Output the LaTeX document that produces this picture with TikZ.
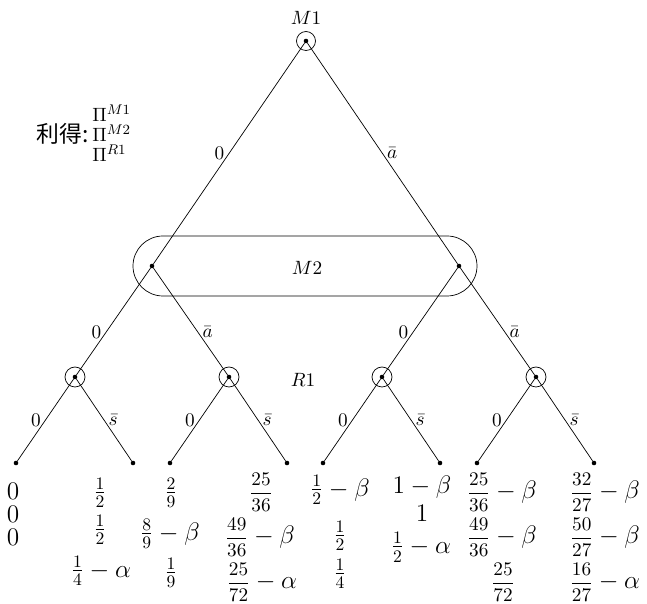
\documentclass[tikz,border=0pt]{standalone}
\usepackage{amsmath}
\usepackage{fontspec}
\newfontfamily\cjk{Noto Sans CJK SC}
\pgfdeclarelayer{edgelayer}
\pgfdeclarelayer{nodelayer}
\pgfsetlayers{edgelayer,nodelayer,main}
\newcommand{\fracsize}{\fontsize{11}{13}\selectfont}
\newcommand{\dpay}[3]{{\fracsize$\dfrac{#1}{#2}$}$\mskip\medmuskip-\mskip\medmuskip#3$}
\tikzstyle{edge}=[draw=black, line width=0.4pt]
\tikzstyle{vertex}=[circle, fill=black, inner sep=0pt, minimum size=2.6pt]
\tikzstyle{info}=[draw=black, line width=0.4pt]
\tikzstyle{lbl}=[inner sep=2.5pt, font=\fontsize{11}{13}\selectfont]
\tikzstyle{player}=[font=\fontsize{11}{13}\selectfont]
\tikzstyle{pay}=[inner sep=0pt, font=\Large]
\tikzstyle{payfrac}=[inner sep=0pt, font=\fracsize]

\begin{document}
\begin{tikzpicture}[x=0.02cm, y=-0.02cm]
	\useasboundingbox (0,0) rectangle (647,604);
				\begin{pgfonlayer}{nodelayer}
					\node [style=vertex] (0) at (306, 41) {};
					\node [style=vertex] (1) at (152, 266) {};
					\node [style=vertex] (2) at (459, 266) {};
					\node [style=vertex] (3) at (75, 377) {};
					\node [style=vertex] (4) at (229, 377) {};
					\node [style=vertex] (5) at (382, 377) {};
					\node [style=vertex] (6) at (536, 377) {};
					\node [style=vertex] (7) at (16, 463) {};
					\node [style=vertex] (8) at (133, 463) {};
					\node [style=vertex] (9) at (170, 463) {};
					\node [style=vertex] (10) at (287, 463) {};
					\node [style=vertex] (11) at (323, 463) {};
					\node [style=vertex] (12) at (440, 463) {};
					\node [style=vertex] (13) at (477, 463) {};
					\node [style=vertex] (14) at (594, 463) {};
					% players
					\node [style=player] (m1) at (306, 18) {$M1$};
					\node [style=player] (m2) at (307, 268) {$M2$};
					\node [style=player] (r1) at (303, 380) {$R1$};
					% legend
					\node [anchor=east, inner sep=0pt] (leg) at (89, 134) {\cjk\fontsize{13}{15}\selectfont 利得:};
					\node [style=player, anchor=west, inner sep=0pt] (pm1) at (92, 113) {$\Pi^{M1}$};
					\node [style=player, anchor=west, inner sep=0pt] (pm2) at (92, 133) {$\Pi^{M2}$};
					\node [style=player, anchor=west, inner sep=0pt] (pr1) at (92, 153) {$\Pi^{R1}$};
					% payoffs
					\node [style=pay] (a1) at (13, 491) {$0$};
					\node [style=pay] (a2) at (13, 514) {$0$};
					\node [style=pay] (a3) at (13, 537) {$0$};
					\node [style=pay] (b1) at (100, 493) {$\frac{1}{2}$};
					\node [style=pay] (b2) at (100, 530) {$\frac{1}{2}$};
					\node [style=pay] (b3) at (101, 571) {$\frac{1}{4}-\alpha$};
					\node [style=pay] (c1) at (171, 493) {$\frac{2}{9}$};
					\node [style=pay] (c2) at (170, 534) {$\frac{8}{9}-\beta$};
					\node [style=pay] (c3) at (171, 573) {$\frac{1}{9}$};
					\node [style=payfrac] (d1) at (261, 492) {$\dfrac{25}{36}$};
					\node [style=pay] (d2) at (260, 537) {\dpay{49}{36}{\beta}};
					\node [style=pay] (d3) at (262, 582) {\dpay{25}{72}{\alpha}};
					\node [style=pay] (e1) at (340, 490) {$\frac{1}{2}-\beta$};
					\node [style=pay] (e2) at (340, 536) {$\frac{1}{2}$};
					\node [style=pay] (e3) at (340, 574) {$\frac{1}{4}$};
					\node [style=pay] (f1) at (422, 487) {$1-\beta$};
					\node [style=pay] (f2) at (422, 513) {$1$};
					\node [style=pay] (f3) at (421, 547) {$\frac{1}{2}-\alpha$};
					\node [style=pay] (g1) at (502, 492) {\dpay{25}{36}{\beta}};
					\node [style=pay] (g2) at (502, 537) {\dpay{49}{36}{\beta}};
					\node [style=payfrac] (g3) at (503, 582) {$\dfrac{25}{72}$};
					\node [style=pay] (h1) at (605, 492) {\dpay{32}{27}{\beta}};
					\node [style=pay] (h2) at (605, 537) {\dpay{50}{27}{\beta}};
					\node [style=pay] (h3) at (605, 582) {\dpay{16}{27}{\alpha}};
				\end{pgfonlayer}
				\begin{pgfonlayer}{edgelayer}
					\draw [style=info] (0) circle [radius=0.19cm];
					\draw [style=info] (3) circle [radius=0.2cm];
					\draw [style=info] (4) circle [radius=0.2cm];
					\draw [style=info] (5) circle [radius=0.2cm];
					\draw [style=info] (6) circle [radius=0.2cm];
					\draw [style=info, rounded corners=0.6cm] (133, 236) rectangle (477, 296);
					\draw [style=edge] (0) to node [lbl, left] {$0$} (1);
					\draw [style=edge] (0) to node [lbl, right] {$\bar{a}$} (2);
					\draw [style=edge] (1) to node [lbl, pos=0.6, left] {$0$} (3);
					\draw [style=edge] (1) to node [lbl, pos=0.6, right] {$\bar{a}$} (4);
					\draw [style=edge] (2) to node [lbl, pos=0.6, left] {$0$} (5);
					\draw [style=edge] (2) to node [lbl, pos=0.6, right] {$\bar{a}$} (6);
					\draw [style=edge] (3) to node [lbl, left] {$0$} (7);
					\draw [style=edge] (3) to node [lbl, right] {$\bar{s}$} (8);
					\draw [style=edge] (4) to node [lbl, left] {$0$} (9);
					\draw [style=edge] (4) to node [lbl, right] {$\bar{s}$} (10);
					\draw [style=edge] (5) to node [lbl, left] {$0$} (11);
					\draw [style=edge] (5) to node [lbl, right] {$\bar{s}$} (12);
					\draw [style=edge] (6) to node [lbl, left] {$0$} (13);
					\draw [style=edge] (6) to node [lbl, right] {$\bar{s}$} (14);
				\end{pgfonlayer}
			\end{tikzpicture}
\end{document}
